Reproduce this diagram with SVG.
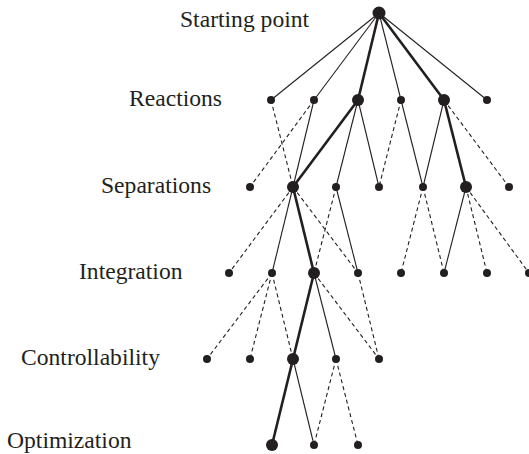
<svg xmlns="http://www.w3.org/2000/svg" width="529" height="454" viewBox="0 0 529 454">
  <style>
    .lbl { font-family: "Liberation Serif", "Times New Roman", serif; font-size: 23.6px; fill: #231f20; }
    .thin { stroke: #231f20; stroke-width: 1.1; fill: none; }
    .thick { stroke: #231f20; stroke-width: 2.6; fill: none; }
    .dash { stroke: #231f20; stroke-width: 1.1; fill: none; stroke-dasharray: 4 3; }
    .n { fill: #231f20; }
  </style>
  <rect width="529" height="454" fill="#ffffff"/>

  <!-- stage labels -->
  <g id="labels">
    <text class="lbl" x="180" y="27">Starting point</text>
    <text class="lbl" x="129" y="106">Reactions</text>
    <text class="lbl" x="101" y="193">Separations</text>
    <text class="lbl" x="79" y="279">Integration</text>
    <text class="lbl" x="21" y="365">Controllability</text>
    <text class="lbl" x="7" y="448">Optimization</text>
  </g>

  <!-- connectors -->
  <g id="connectors">
    <!-- starting point to reactions -->
    <line class="thin" x1="379" y1="13" x2="271" y2="100"/>
    <line class="thin" x1="379" y1="13" x2="314" y2="100"/>
    <line class="thick" x1="379" y1="13" x2="358" y2="100"/>
    <line class="thin" x1="379" y1="13" x2="401" y2="100"/>
    <line class="thick" x1="379" y1="13" x2="444" y2="100"/>
    <line class="thin" x1="379" y1="13" x2="487" y2="100"/>
    <!-- reactions to separations -->
    <line class="dash" x1="271" y1="100" x2="293" y2="187"/>
    <line class="dash" x1="314" y1="100" x2="250" y2="187"/>
    <line class="thin" x1="314" y1="100" x2="293" y2="187"/>
    <line class="thick" x1="358" y1="100" x2="293" y2="187"/>
    <line class="thin" x1="358" y1="100" x2="336" y2="187"/>
    <line class="thin" x1="358" y1="100" x2="379" y2="187"/>
    <line class="dash" x1="401" y1="100" x2="379" y2="187"/>
    <line class="thin" x1="401" y1="100" x2="423" y2="187"/>
    <line class="thin" x1="444" y1="100" x2="423" y2="187"/>
    <line class="thick" x1="444" y1="100" x2="466" y2="187"/>
    <line class="dash" x1="444" y1="100" x2="509" y2="187"/>
    <!-- separations to integration -->
    <line class="dash" x1="293" y1="187" x2="229" y2="273"/>
    <line class="thin" x1="293" y1="187" x2="272" y2="273"/>
    <line class="thick" x1="293" y1="187" x2="314" y2="273"/>
    <line class="dash" x1="293" y1="187" x2="358" y2="273"/>
    <line class="dash" x1="336" y1="187" x2="314" y2="273"/>
    <line class="thin" x1="336" y1="187" x2="358" y2="273"/>
    <line class="dash" x1="423" y1="187" x2="401" y2="273"/>
    <line class="dash" x1="423" y1="187" x2="444" y2="273"/>
    <line class="thin" x1="466" y1="187" x2="444" y2="273"/>
    <line class="dash" x1="466" y1="187" x2="487" y2="273"/>
    <line class="dash" x1="466" y1="187" x2="529" y2="273"/>
    <!-- integration to controllability -->
    <line class="dash" x1="272" y1="273" x2="207" y2="359"/>
    <line class="dash" x1="272" y1="273" x2="250" y2="359"/>
    <line class="dash" x1="272" y1="273" x2="293" y2="359"/>
    <line class="thick" x1="314" y1="273" x2="293" y2="359"/>
    <line class="thin" x1="314" y1="273" x2="336" y2="359"/>
    <line class="dash" x1="314" y1="273" x2="379" y2="359"/>
    <line class="dash" x1="358" y1="273" x2="379" y2="359"/>
    <!-- controllability to optimization -->
    <line class="thick" x1="293" y1="359" x2="272" y2="445"/>
    <line class="thin" x1="293" y1="359" x2="314" y2="445"/>
    <line class="dash" x1="336" y1="359" x2="314" y2="445"/>
    <line class="dash" x1="336" y1="359" x2="358" y2="445"/>
  </g>

  <!-- decision nodes -->
  <g id="n-start"><circle class="n" cx="379" cy="13" r="6.5"/></g>

  <g id="n-r1"><circle class="n" cx="271" cy="100" r="4"/></g>
  <g id="n-r2"><circle class="n" cx="314" cy="100" r="4"/></g>
  <g id="n-r3"><circle class="n" cx="358" cy="100" r="6"/></g>
  <g id="n-r4"><circle class="n" cx="401" cy="100" r="4"/></g>
  <g id="n-r5"><circle class="n" cx="444" cy="100" r="6"/></g>
  <g id="n-r6"><circle class="n" cx="487" cy="100" r="4"/></g>

  <g id="n-s1"><circle class="n" cx="250" cy="187" r="4"/></g>
  <g id="n-s2"><circle class="n" cx="293" cy="187" r="6"/></g>
  <g id="n-s3"><circle class="n" cx="336" cy="187" r="4"/></g>
  <g id="n-s4"><circle class="n" cx="379" cy="187" r="4"/></g>
  <g id="n-s5"><circle class="n" cx="423" cy="187" r="4"/></g>
  <g id="n-s6"><circle class="n" cx="466" cy="187" r="6"/></g>
  <g id="n-s7"><circle class="n" cx="509" cy="187" r="4"/></g>

  <g id="n-i1"><circle class="n" cx="229" cy="273" r="4"/></g>
  <g id="n-i2"><circle class="n" cx="272" cy="273" r="4"/></g>
  <g id="n-i3"><circle class="n" cx="314" cy="273" r="6"/></g>
  <g id="n-i4"><circle class="n" cx="358" cy="273" r="4"/></g>
  <g id="n-i5"><circle class="n" cx="401" cy="273" r="4"/></g>
  <g id="n-i6"><circle class="n" cx="444" cy="273" r="4"/></g>
  <g id="n-i7"><circle class="n" cx="487" cy="273" r="4"/></g>
  <g id="n-i8"><circle class="n" cx="529" cy="273" r="4"/></g>

  <g id="n-c1"><circle class="n" cx="207" cy="359" r="4"/></g>
  <g id="n-c2"><circle class="n" cx="250" cy="359" r="4"/></g>
  <g id="n-c3"><circle class="n" cx="293" cy="359" r="6"/></g>
  <g id="n-c4"><circle class="n" cx="336" cy="359" r="4"/></g>
  <g id="n-c5"><circle class="n" cx="379" cy="359" r="4"/></g>

  <g id="n-o1"><circle class="n" cx="272" cy="445" r="6"/></g>
  <g id="n-o2"><circle class="n" cx="314" cy="445" r="4"/></g>
  <g id="n-o3"><circle class="n" cx="358" cy="445" r="4"/></g>
</svg>
